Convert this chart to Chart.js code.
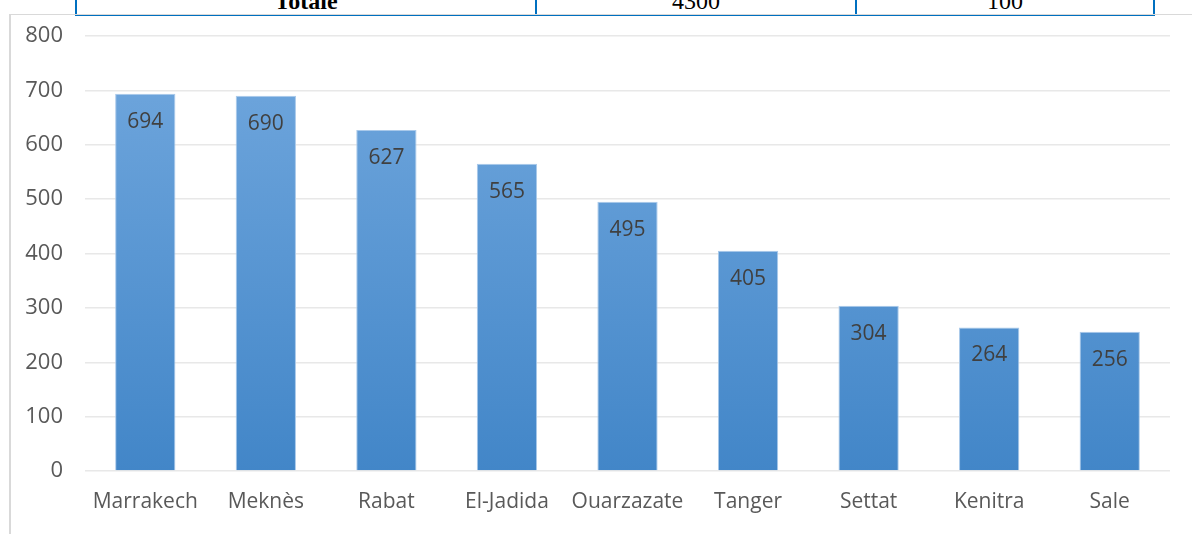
<!DOCTYPE html>
<html>
<head>
<meta charset="utf-8">
<script src="https://cdn.jsdelivr.net/npm/chart.js@4"></script>
<style>
  body { margin: 0; background: #fff; width: 1192px; height: 534px; overflow: hidden; position: relative; }
  .tbl { position: absolute; left: 75px; top: -14px; width: 1076px; height: 26px; border: 2px solid #0070c0; display: flex; font-family: "Liberation Serif", serif; font-size: 24px; }
  .tbl div { text-align: center; line-height: 26px; color: #000; }
  .tbl .c1 { width: 458px; border-right: 2px solid #0070c0; font-weight: bold; }
  .tbl .c2 { width: 318px; border-right: 2px solid #0070c0; }
  .tbl .c3 { flex: 1; }
  .frame { position: absolute; left: 9px; top: 14px; width: 1183px; height: 520px; border-left: 2px solid #d9d9d9; border-top: 1px solid #d9d9d9; }
</style>
</head>
<body>
<div class="tbl"><div class="c1">Totale</div><div class="c2">4300</div><div class="c3">100</div></div>
<div class="frame"><canvas id="chart"></canvas></div>
<script>
const cities = ['Marrakech', 'Meknès', 'Rabat', 'El-Jadida', 'Ouarzazate', 'Tanger', 'Settat', 'Kenitra', 'Sale'];
const counts = [694, 690, 627, 565, 495, 405, 304, 264, 256];
const yTicks = [0, 100, 200, 300, 400, 500, 600, 700, 800];

const font = "'Open Sans', sans-serif";

// values written inside the top of each bar
const valueLabels = {
    id: 'valueLabels',
    afterDatasetsDraw(chart) {
        const ctx = chart.ctx;
        const meta = chart.getDatasetMeta(0);
        ctx.save();
        ctx.font = '21px ' + font;
        ctx.fillStyle = '#404040';
        ctx.textAlign = 'center';
        ctx.textBaseline = 'middle';
        meta.data.forEach((bar, i) => {
            ctx.fillText(counts[i], bar.x, bar.y + 28);
        });
        ctx.restore();
    }
};

const canvas = document.getElementById('chart');
canvas.width = 1183;
canvas.height = 520;

new Chart(canvas, {
    type: 'bar',
    data: {
        labels: cities,
        datasets: [{
            data: counts,
            backgroundColor: (c) => {
                const area = c.chart.chartArea;
                if (!area) return '#5b9bd5';
                const g = c.chart.ctx.createLinearGradient(0, area.top, 0, area.bottom);
                g.addColorStop(0, '#72a8de');
                g.addColorStop(1, '#4286c8');
                return g;
            },
            borderColor: '#a9c9ea',
            borderWidth: 1,
            categoryPercentage: 1,
            barPercentage: 0.5
        }]
    },
    options: {
        responsive: false,
        animation: false,
        layout: { padding: { top: 21, right: 24, left: 0, bottom: 0 } },
        plugins: { legend: { display: false }, tooltip: { enabled: false } },
        scales: {
            x: {
                grid: { display: false },
                border: { display: false },
                ticks: { color: '#595959', font: { family: font, size: 21 }, padding: 10, maxRotation: 0 },
                afterFit: (s) => { s.height = 64; }
            },
            y: {
                min: 0,
                max: 800,
                afterBuildTicks: (s) => { s.ticks = yTicks.map(v => ({ value: v })); },
                grid: { color: '#e8e8e8', lineWidth: 1.5, drawTicks: false },
                border: { display: false },
                ticks: { color: '#595959', font: { family: font, size: 22 }, padding: 22 },
                afterFit: (s) => { s.width = 74; s.paddingTop = 0; s.paddingBottom = 0; }
            }
        }
    },
    plugins: [valueLabels]
});
</script>
</body>
</html>
